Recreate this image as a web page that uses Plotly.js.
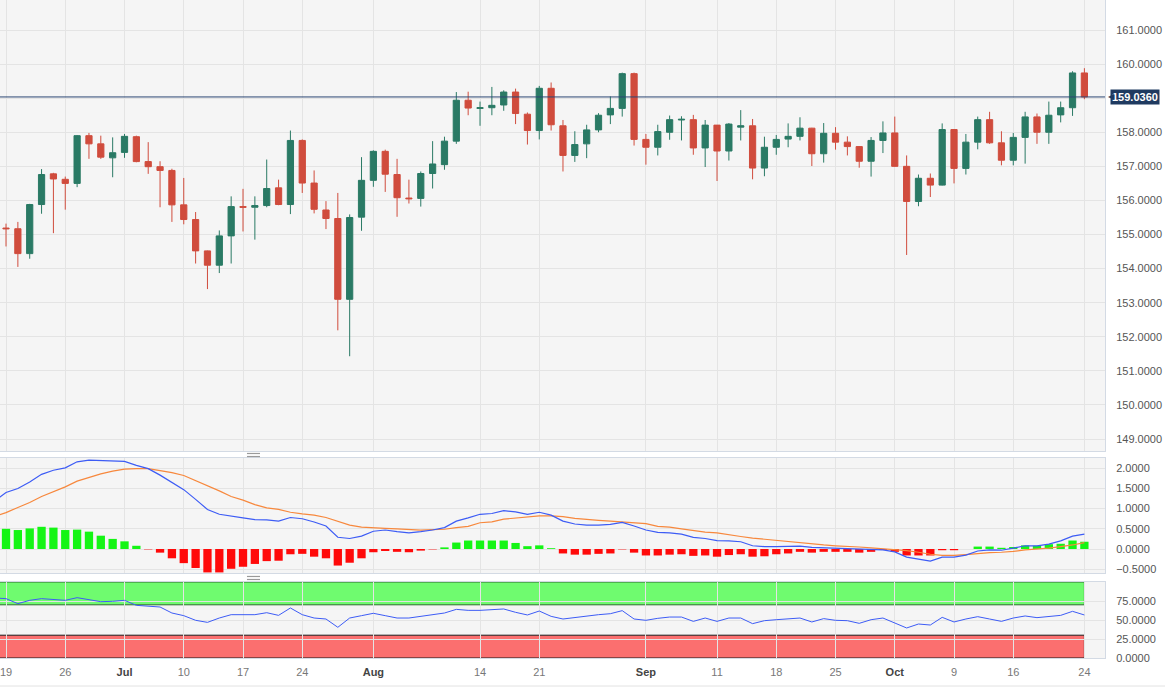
<!DOCTYPE html>
<html><head><meta charset="utf-8">
<script src="https://cdn.plot.ly/plotly-3.0.1.min.js"></script>
<style>html,body{margin:0;padding:0;background:#fff;}#chart{width:1165px;height:693px;}</style>
</head><body><div id="chart"></div>
<script>
// ---- data ----
const dates = [
'2023-06-19','2023-06-20','2023-06-21','2023-06-22','2023-06-23','2023-06-26','2023-06-27','2023-06-28','2023-06-29','2023-06-30',
'2023-07-03','2023-07-04','2023-07-05','2023-07-06','2023-07-07','2023-07-10','2023-07-11','2023-07-12','2023-07-13','2023-07-14',
'2023-07-17','2023-07-18','2023-07-19','2023-07-20','2023-07-21','2023-07-24','2023-07-25','2023-07-26','2023-07-27','2023-07-28','2023-07-31',
'2023-08-01','2023-08-02','2023-08-03','2023-08-04','2023-08-07','2023-08-08','2023-08-09','2023-08-10','2023-08-11','2023-08-14',
'2023-08-15','2023-08-16','2023-08-17','2023-08-18','2023-08-21','2023-08-22','2023-08-23','2023-08-24','2023-08-25','2023-08-28',
'2023-08-29','2023-08-30','2023-08-31','2023-09-01','2023-09-04','2023-09-05','2023-09-06','2023-09-07','2023-09-08','2023-09-11',
'2023-09-12','2023-09-13','2023-09-14','2023-09-15','2023-09-18','2023-09-19','2023-09-20','2023-09-21','2023-09-22','2023-09-25',
'2023-09-26','2023-09-27','2023-09-28','2023-09-29','2023-10-02','2023-10-03','2023-10-04','2023-10-05','2023-10-06','2023-10-09',
'2023-10-10','2023-10-11','2023-10-12','2023-10-13','2023-10-16','2023-10-17','2023-10-18','2023-10-19','2023-10-20','2023-10-23','2023-10-24'];

const openP = [155.19,155.17,154.44,155.88,156.78,156.62,156.50,157.90,157.66,157.25,
157.41,157.87,157.14,156.99,156.88,155.87,155.44,154.52,154.10,154.96,
155.82,155.80,155.85,156.37,155.88,157.76,156.51,155.72,155.47,153.10,155.51,
156.59,157.44,156.76,156.07,156.06,156.79,157.05,157.74,158.94,158.70,
158.72,158.80,159.18,158.53,158.05,159.29,158.19,157.32,157.66,158.07,
158.51,158.70,159.72,157.79,157.56,158.00,158.36,158.37,157.54,158.21,
157.45,158.15,158.19,156.95,157.56,157.80,157.88,158.12,157.37,157.97,
157.71,157.58,157.15,157.76,157.98,157.00,155.97,156.65,156.45,158.08,
156.94,157.71,158.37,157.69,157.18,157.85,158.45,158.00,158.51,158.72,159.74];
const highP = [155.32,155.37,155.90,156.92,156.81,156.70,157.92,157.98,157.90,157.85,
157.95,157.90,157.71,157.15,156.93,156.66,155.66,154.53,155.12,156.12,
156.34,156.12,157.20,156.61,158.05,157.79,156.88,155.98,156.22,155.59,157.27,
157.47,157.49,157.22,156.61,156.85,157.74,157.87,159.18,159.19,158.90,
159.33,159.23,159.28,158.58,159.36,159.46,158.36,158.03,158.22,158.56,
159.05,159.75,159.75,157.95,158.22,158.49,158.47,158.51,158.36,158.21,
158.27,158.65,158.39,157.87,157.92,158.26,158.44,158.13,158.27,158.15,
157.88,157.59,157.86,158.32,158.46,157.32,156.76,156.79,158.26,158.09,
157.95,158.46,158.60,158.03,157.98,158.60,158.55,158.90,158.90,159.79,159.88];
const lowP = [154.65,154.05,154.29,155.61,155.04,155.73,156.39,157.22,157.22,156.68,
157.25,157.12,156.78,155.80,155.37,155.30,154.15,153.40,153.87,154.15,
155.09,154.85,155.80,155.86,155.60,156.22,155.62,155.16,152.19,151.43,155.11,
156.40,156.25,155.52,155.91,155.82,156.35,156.90,157.66,158.50,158.19,
158.50,158.63,158.24,157.64,157.79,158.05,156.85,157.13,157.24,158.00,
158.24,158.46,157.61,157.05,157.32,157.78,157.76,157.34,156.98,156.57,
157.17,157.76,156.62,156.71,157.34,157.56,157.76,157.01,157.11,157.49,
157.32,156.96,156.70,157.39,156.99,154.40,155.83,156.10,156.44,156.50,
156.76,157.50,157.66,157.03,157.03,157.08,157.66,157.66,158.29,158.48,158.97];
const closeP = [155.17,154.44,155.88,156.76,156.63,156.50,157.90,157.66,157.27,157.40,
157.88,157.14,156.99,156.88,155.87,155.44,154.52,154.10,154.96,155.82,
155.80,155.85,156.35,155.88,157.76,156.51,155.74,155.47,153.10,155.50,156.59,
157.44,156.77,156.08,156.05,156.79,157.07,157.74,158.94,158.71,158.72,
158.79,159.18,158.55,158.05,159.29,158.22,157.32,157.64,158.07,158.50,
158.70,159.72,157.79,157.56,158.02,158.37,158.38,157.54,158.21,157.45,
158.24,158.19,156.95,157.56,157.79,157.88,158.12,157.37,157.97,157.71,
157.58,157.15,157.76,157.98,157.00,155.97,156.65,156.45,158.08,156.94,
157.71,158.37,157.69,157.18,157.85,158.45,158.00,158.50,158.72,159.74,159.036];

const lastPrice = 159.036;

// indicator lines start one session earlier (Jun 16)
const preDate = '2023-06-16';
const macdLine = [1.18,
1.40,1.50,1.66,1.85,1.95,2.01,2.16,2.20,2.19,2.18,
2.17,2.07,1.99,1.83,1.66,1.47,1.23,0.98,0.86,0.81,
0.77,0.73,0.72,0.69,0.78,0.75,0.67,0.57,0.29,0.26,0.32,
0.44,0.47,0.43,0.40,0.43,0.47,0.53,0.69,0.77,0.86,
0.88,0.95,0.92,0.86,0.91,0.84,0.69,0.62,0.59,0.59,
0.61,0.66,0.57,0.47,0.41,0.40,0.37,0.29,0.26,0.21,
0.20,0.18,0.08,0.06,0.06,0.06,0.07,0.04,0.03,0.02,
0.02,0.01,0.00,-0.02,-0.07,-0.20,-0.25,-0.30,-0.20,-0.20,
-0.15,-0.05,-0.02,-0.03,0.02,0.08,0.08,0.12,0.20,0.32,0.37];
const signalLine = [0.80,
0.90,1.03,1.15,1.30,1.42,1.54,1.68,1.77,1.86,1.93,
1.98,1.99,1.99,1.94,1.89,1.82,1.70,1.56,1.44,1.30,
1.21,1.10,1.02,0.98,0.91,0.87,0.84,0.78,0.68,0.59,0.54,
0.52,0.51,0.50,0.48,0.47,0.48,0.49,0.53,0.56,0.65,
0.67,0.74,0.77,0.79,0.82,0.82,0.80,0.76,0.73,0.71,
0.69,0.67,0.66,0.63,0.56,0.54,0.50,0.46,0.42,0.40,
0.35,0.31,0.27,0.24,0.21,0.18,0.15,0.12,0.10,0.08,
0.07,0.05,0.03,0.01,-0.01,-0.04,-0.08,-0.13,-0.16,-0.16,
-0.14,-0.11,-0.09,-0.08,-0.06,-0.02,0.00,0.02,0.06,0.10,0.16];
const macdHist = [
0.50,0.47,0.51,0.55,0.53,0.47,0.48,0.43,0.33,0.25,
0.19,0.08,-0.01,-0.09,-0.23,-0.35,-0.47,-0.58,-0.58,-0.49,
-0.44,-0.37,-0.30,-0.29,-0.13,-0.12,-0.19,-0.23,-0.41,-0.34,-0.23,
-0.08,-0.05,-0.07,-0.08,-0.04,-0.01,0.04,0.16,0.21,0.21,
0.21,0.21,0.15,0.07,0.09,0.02,-0.11,-0.14,-0.14,-0.12,
-0.11,-0.01,-0.09,-0.16,-0.16,-0.14,-0.13,-0.17,-0.16,-0.19,
-0.15,-0.13,-0.19,-0.18,-0.13,-0.11,-0.07,-0.09,-0.07,-0.07,
-0.07,-0.09,-0.07,-0.02,-0.07,-0.16,-0.16,-0.16,-0.03,-0.03,
0.00,0.06,0.06,0.03,0.05,0.09,0.08,0.12,0.13,0.21,0.18];
const rsiLine = [79.0,
78.1,71.5,75.9,78.1,76.8,75.9,79.4,77.2,74.1,74.6,
75.9,69.3,68.0,67.1,59.2,55.7,49.6,46.9,52.6,57.0,
57.0,57.0,59.6,56.1,65.8,57.0,52.6,51.3,40.4,52.6,55.7,
58.8,55.7,52.6,52.6,54.8,56.6,59.2,64.0,62.7,62.7,
63.2,64.5,60.1,56.6,61.8,54.8,51.3,53.5,55.3,57.0,
58.3,62.3,51.3,49.6,52.2,53.9,53.9,48.2,52.6,48.2,
52.6,52.6,45.2,49.1,50.4,51.3,52.6,47.4,51.8,49.6,
49.1,45.6,50.4,52.6,46.1,39.5,44.7,43.4,53.5,47.4,
51.3,54.4,51.3,48.2,52.6,55.3,53.1,54.8,56.1,61.4,56.6];
const rsiUpper = 70, rsiLower = 30;

const tickDates = ['2023-06-19','2023-06-26','2023-07-03','2023-07-10','2023-07-17','2023-07-24','2023-08-01','2023-08-14','2023-08-21',
'2023-09-01','2023-09-11','2023-09-18','2023-09-25','2023-10-02','2023-10-09','2023-10-16','2023-10-24'];
const tickLabels = ['19','26','Jul','10','17','24','Aug','14','21','Sep','11','18','25','Oct','9','16','24'];
const monthLabels = ['Jul','Aug','Sep','Oct'];
const priceTicks = [149,150,151,152,153,154,155,156,157,158,159,160,161];
const macdTicks = [-0.5,0,0.5,1.0,1.5,2.0];
const rsiTicks = [0,25,50,75];

// ---- build ----
const noon = d => d + ' 12:00';
const xC = dates.map(noon);
const xL = [preDate].concat(dates).map(noon);
const tv = tickDates.map(noon);
const tt = tickLabels.map(t => monthLabels.includes(t) ? '<b><span style="color:#444">'+t+'</span></b>' : t);
// the price tag covers the tick label nearest to the last price
const priceTickText = priceTicks.map(v => Math.abs(v - lastPrice) < 0.3 ? '' : v.toFixed(4));
const xRange = ['2023-06-16 23:50','2023-10-26 05:45'];
const GRID = '#e4e4e4', BORDER = '#d3dae4';
const GREEN = '#2a7a65', RED = '#d04c3d';

const traces = [
 {type:'candlestick', x:xC, open:openP, high:highP, low:lowP, close:closeP, xaxis:'x3', yaxis:'y',
  increasing:{line:{color:GREEN,width:1}, fillcolor:GREEN},
  decreasing:{line:{color:RED,width:1}, fillcolor:RED}, whiskerwidth:0, hoverinfo:'skip'},
 {type:'bar', x:xC, y:macdHist, xaxis:'x2', yaxis:'y2',
  marker:{color:macdHist.map(v => v >= 0 ? '#14f514' : '#ff0a0a'), line:{width:0}}, hoverinfo:'skip'},
 {type:'scatter', mode:'lines', x:xL, y:signalLine, xaxis:'x2', yaxis:'y2', line:{color:'#f7883d', width:1.2}, hoverinfo:'skip'},
 {type:'scatter', mode:'lines', x:xL, y:macdLine, xaxis:'x2', yaxis:'y2', line:{color:'#3d5cf5', width:1.2}, hoverinfo:'skip'},
 {type:'scatter', mode:'lines', x:xL, y:rsiLine, xaxis:'x', yaxis:'y3', line:{color:'#3d5cf5', width:1}, hoverinfo:'skip'}
];

const xBase = {type:'date', range:xRange, rangebreaks:[{bounds:['sat','mon']}], tickvals:tv, ticktext:tt,
  showgrid:true, gridcolor:GRID, gridwidth:1, zeroline:false, ticks:'', showline:true, linecolor:BORDER, mirror:true,
  rangeslider:{visible:false}, fixedrange:true};
const yBase = {side:'right', showgrid:true, gridcolor:GRID, zeroline:false, ticks:'', showline:true, linecolor:BORDER,
  mirror:true, tickformat:'.4f', ticklabelstandoff:8, fixedrange:true, tickfont:{size:11,color:'#555'}};

const layout = {
 width:1165, height:693, margin:{l:0,r:60,t:0,b:35},
 paper_bgcolor:'#ffffff', plot_bgcolor:'#f5f5f5', showlegend:false, hovermode:false,
 boxgap:0.25, bargap:0.3,
 font:{family:'Liberation Sans, Arial, sans-serif', size:11, color:'#555'},
 xaxis: Object.assign({}, xBase, {anchor:'y3', showticklabels:true, tickfont:{size:11,color:'#777'}, ticklabelstandoff:4, ticklabeloverflow:'allow'}),
 xaxis2: Object.assign({}, xBase, {anchor:'y2', matches:'x', showticklabels:false}),
 xaxis3: Object.assign({}, xBase, {anchor:'y', matches:'x', showticklabels:false}),
 yaxis: Object.assign({}, yBase, {domain:[0.3146,1], range:[148.65,161.88], tickvals:priceTicks, ticktext:priceTickText}),
 yaxis2: Object.assign({}, yBase, {domain:[0.1292,0.3040], range:[-0.594,2.255], tickvals:macdTicks}),
 yaxis3: Object.assign({}, yBase, {domain:[0,0.1155], range:[0,100], tickvals:rsiTicks}),
 shapes:[
  {type:'rect', xref:'x', yref:'y3', x0:'2023-06-10', x1:noon(dates[dates.length-1]), y0:rsiUpper, y1:100,
   fillcolor:'#6ffb6f', line:{color:'#2f6b2f', width:1}, layer:'below'},
  {type:'rect', xref:'x', yref:'y3', x0:'2023-06-10', x1:noon(dates[dates.length-1]), y0:0, y1:rsiLower,
   fillcolor:'#fb6f6f', line:{color:'#1a1a1a', width:1}, layer:'below'},
  {type:'line', xref:'paper', yref:'y', x0:0, x1:1, y0:lastPrice, y1:lastPrice, line:{color:'#2b4673', width:1}, layer:'above'},
  {type:'line', xref:'paper', yref:'paper', x0:0.2235, x1:0.2353, y0:0.3108, y1:0.3108, line:{color:'#9a9a9a', width:1.2}},
  {type:'line', xref:'paper', yref:'paper', x0:0.2235, x1:0.2353, y0:0.3062, y1:0.3062, line:{color:'#9a9a9a', width:1.2}},
  {type:'line', xref:'paper', yref:'paper', x0:0.2235, x1:0.2353, y0:0.1239, y1:0.1239, line:{color:'#9a9a9a', width:1.2}},
  {type:'line', xref:'paper', yref:'paper', x0:0.2235, x1:0.2353, y0:0.1193, y1:0.1193, line:{color:'#9a9a9a', width:1.2}},
  {type:'line', xref:'paper', yref:'paper', x0:0, x1:1.0543, y0:-0.0426, y1:-0.0426, line:{color:'#e2e2e2', width:1}}
 ],
 annotations:[
  {xref:'paper', yref:'y', x:1.0045, y:lastPrice, xanchor:'left', yanchor:'middle', showarrow:false,
   text:'<b>'+lastPrice.toFixed(4)+'</b>', bgcolor:'#1f3a60', borderpad:1, font:{color:'#ffffff', size:11}},
  {xref:'paper', yref:'y', x:1.0005, y:lastPrice, xanchor:'left', yanchor:'middle', showarrow:false,
   text:'◀', font:{color:'#1f3a60', size:8}}
 ]
};

Plotly.newPlot('chart', traces, layout, {staticPlot:true, displayModeBar:false});
</script>
</body></html>
